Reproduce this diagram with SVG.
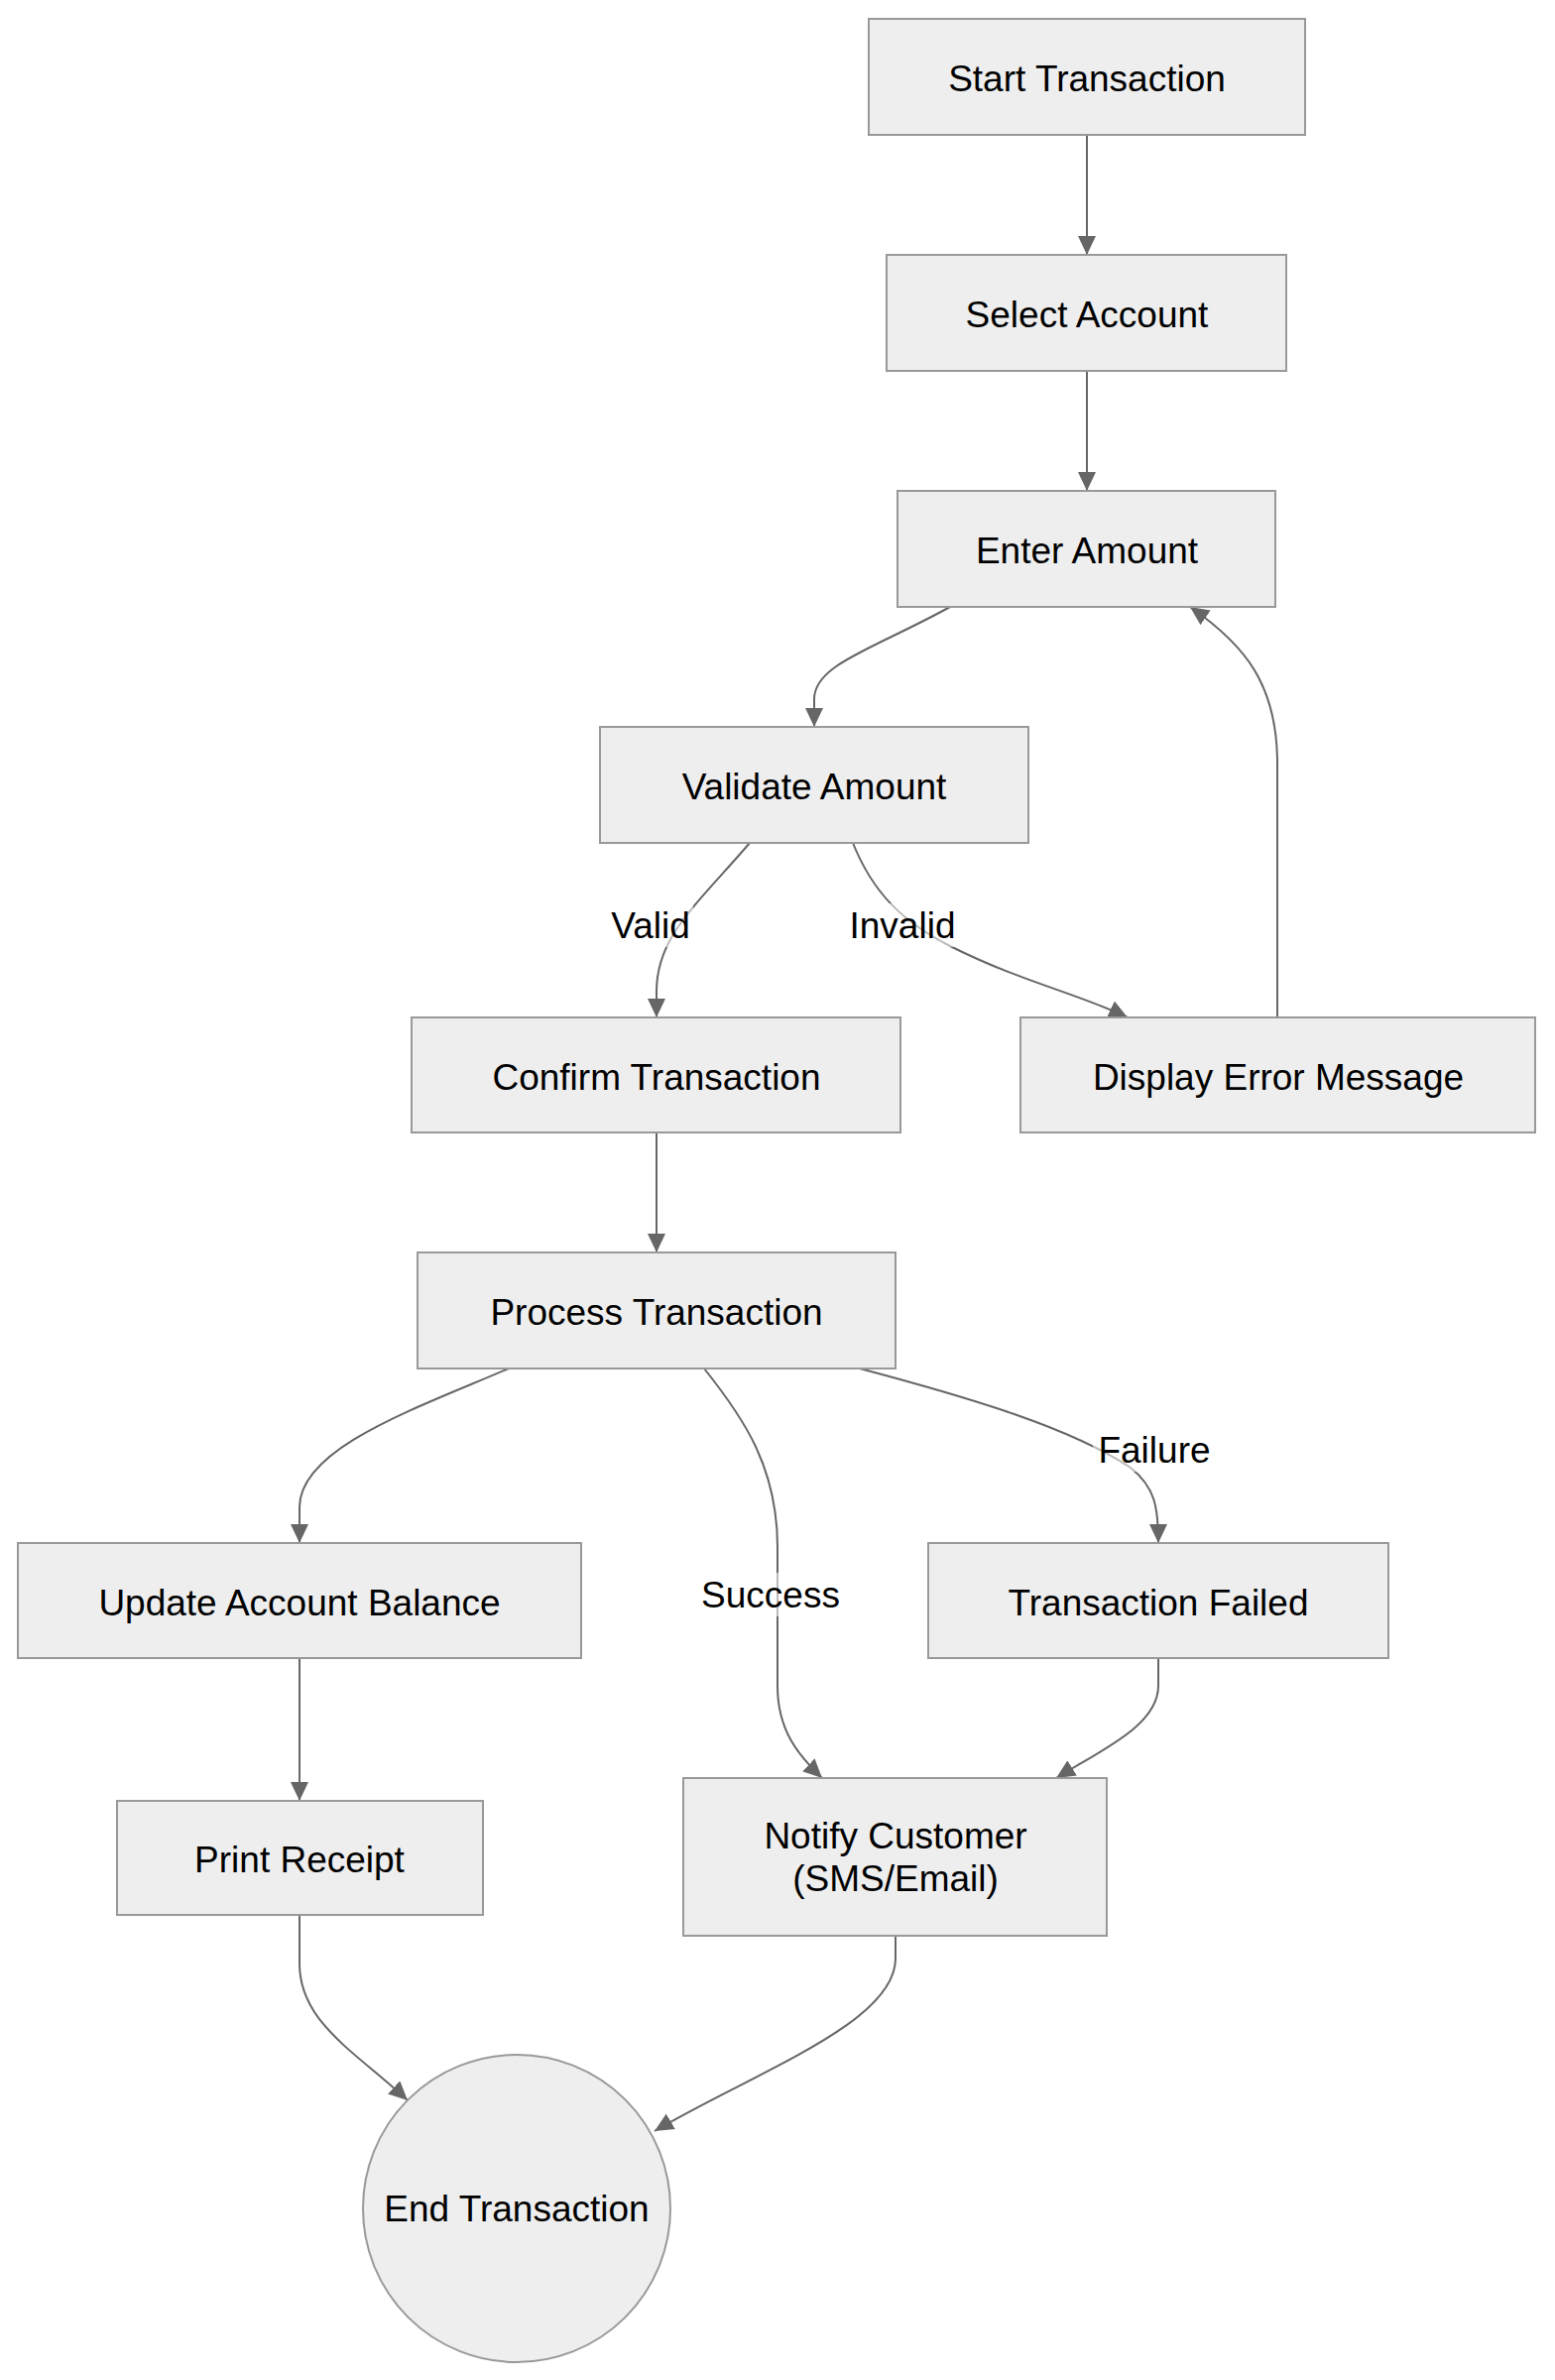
<svg xmlns="http://www.w3.org/2000/svg" width="1568" height="2400" viewBox="0 0 1568 2400">
<style>
.node rect,.node circle{fill:#eeeeee;stroke:#999999;stroke-width:2}
.node text,.lbl text{font-family:"Liberation Sans",Arial,sans-serif;font-size:37px;fill:#000;text-anchor:middle}
.edge{fill:none;stroke:#666666;stroke-width:2;marker-end:url(#arrow)}
.lbl rect{fill:#ffffff;opacity:0.55}
</style>
<defs>
<marker id="arrow" markerUnits="userSpaceOnUse" markerWidth="20" markerHeight="20" refX="19" refY="9" orient="auto">
<path d="M0,0 L19,9 L0,18 z" fill="#666666"/>
</marker>
</defs>
<rect x="0" y="0" width="1568" height="2400" fill="#ffffff"/>
<g id="connectors">
<path class="edge" d="M1096,136 L1096,257"/>
<path class="edge" d="M1096,374 L1096,495"/>
<path class="edge" d="M958,612 C880,655 821,670 821,705 L821,733"/>
<path class="edge" d="M756,850 C700,915 662,945 662,1000 L662,1026"/>
<path class="edge" d="M860,850 C880,900 910,930 960,955 C1030,990 1090,1003 1137,1026"/>
<path class="edge" d="M1288,1026 L1288,770 C1288,690 1255,650 1200,612"/>
<path class="edge" d="M662,1142 L662,1263"/>
<path class="edge" d="M513,1380 C420,1420 302,1460 302,1520 L302,1556"/>
<path class="edge" d="M710,1380 C750,1430 784,1480 784,1560 L784,1700 C784,1745 805,1770 829,1793"/>
<path class="edge" d="M867,1380 C980,1410 1080,1440 1140,1480 C1165,1500 1168,1520 1168,1556"/>
<path class="edge" d="M1168,1672 L1168,1700 C1168,1740 1110,1765 1065,1793"/>
<path class="edge" d="M302,1672 L302,1816"/>
<path class="edge" d="M302,1931 L302,1980 C302,2040 360,2070 411,2118"/>
<path class="edge" d="M903,1952 L903,1975 C903,2040 760,2090 660,2149"/>
</g>
<g id="edge-labels">
<g class="lbl" id="lbl-valid"><rect x="613" y="911" width="86" height="44"/><text x="656" y="946">Valid</text></g>
<g class="lbl" id="lbl-invalid"><rect x="852" y="911" width="116" height="44"/><text x="910" y="946">Invalid</text></g>
<g class="lbl" id="lbl-failure"><rect x="1102" y="1440" width="124" height="44"/><text x="1164" y="1475">Failure</text></g>
<g class="lbl" id="lbl-success"><rect x="709" y="1586" width="136" height="44"/><text x="777" y="1621">Success</text></g>
</g>
<g id="start" class="node"><rect x="876" y="19" width="440" height="117"/><text x="1096" y="92">Start Transaction</text></g>
<g id="select" class="node"><rect x="894" y="257" width="403" height="117"/><text x="1096" y="330">Select Account</text></g>
<g id="enter" class="node"><rect x="905" y="495" width="381" height="117"/><text x="1096" y="568">Enter Amount</text></g>
<g id="validate" class="node"><rect x="605" y="733" width="432" height="117"/><text x="821" y="806">Validate Amount</text></g>
<g id="confirm" class="node"><rect x="415" y="1026" width="493" height="116"/><text x="662" y="1099">Confirm Transaction</text></g>
<g id="error" class="node"><rect x="1029" y="1026" width="519" height="116"/><text x="1289" y="1099">Display Error Message</text></g>
<g id="process" class="node"><rect x="421" y="1263" width="482" height="117"/><text x="662" y="1336">Process Transaction</text></g>
<g id="update" class="node"><rect x="18" y="1556" width="568" height="116"/><text x="302" y="1629">Update Account Balance</text></g>
<g id="failed" class="node"><rect x="936" y="1556" width="464" height="116"/><text x="1168" y="1629">Transaction Failed</text></g>
<g id="print" class="node"><rect x="118" y="1816" width="369" height="115"/><text x="302" y="1888">Print Receipt</text></g>
<g id="notify" class="node"><rect x="689" y="1793" width="427" height="159"/><text x="903" y="1864">Notify Customer</text><text x="903" y="1907">(SMS/Email)</text></g>
<g id="end" class="node"><circle cx="521" cy="2227" r="155"/><text x="521" y="2240">End Transaction</text></g>
</svg>
